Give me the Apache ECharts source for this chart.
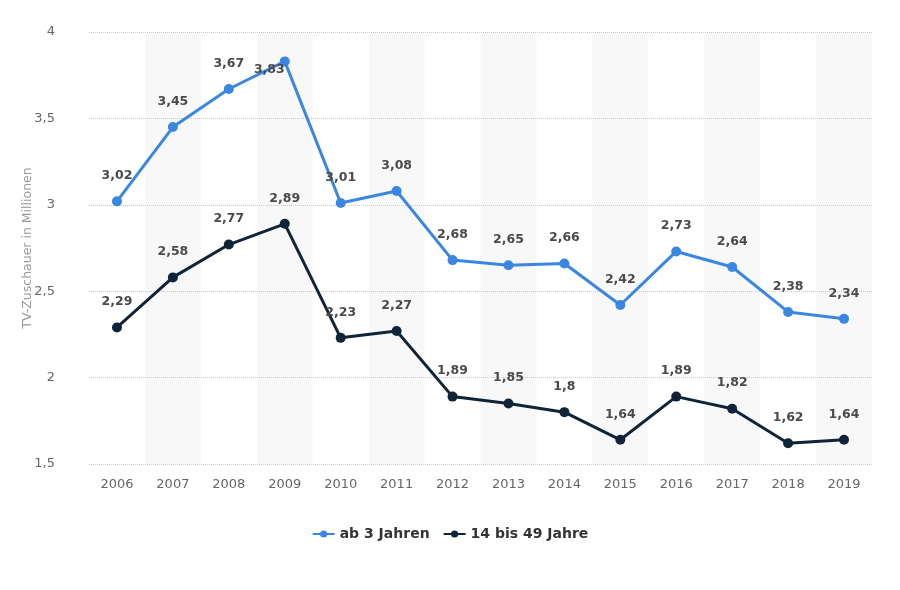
<!DOCTYPE html>
<html><head><meta charset="utf-8">
<script src="https://cdn.jsdelivr.net/npm/echarts@6/dist/echarts.min.js"></script>
<style>html,body{margin:0;padding:0;background:#fff}#c{width:900px;height:590px}</style>
</head><body><div id="c"></div>
<script>
const categories = ['2006','2007','2008','2009','2010','2011','2012','2013','2014','2015','2016','2017','2018','2019'];
const ab3Jahren = [3.02,3.45,3.67,3.83,3.01,3.08,2.68,2.65,2.66,2.42,2.73,2.64,2.38,2.34];
const bis49 = [2.29,2.58,2.77,2.89,2.23,2.27,1.89,1.85,1.8,1.64,1.89,1.82,1.62,1.64];
const seriesNames = ['ab 3 Jahren','14 bis 49 Jahre'];
const yTitle = 'TV-Zuschauer in Millionen';

const FONT = 'DejaVu Sans';
const fmt = v => String(v).replace('.', ',');
const chart = echarts.init(document.getElementById('c'));
const lbl = {show:true, position:'top', distance:14, fontFamily:FONT, fontWeight:'bold', fontSize:12.5, color:'#4a4a4a',
  formatter:p=>fmt(p.value)};
// the top point's label is pushed down next to the marker, as in the reference
const ab3Data = ab3Jahren.map((v,i)=> i===3 ? {value:v, label:{position:'left', distance:0, offset:[5,8]}} : v);
chart.setOption({
  animation:false,
  textStyle:{fontFamily:FONT},
  grid:{left:89, right:28, top:32, bottom:126},
  legend:{bottom:44, left:'center', itemWidth:22, itemHeight:9, itemGap:13,
    textStyle:{fontFamily:FONT, fontWeight:'bold', fontSize:14, color:'#333'},
    data:seriesNames},
  xAxis:{type:'category', data:categories, boundaryGap:true, z:0,
    axisLine:{show:false}, axisTick:{show:false},
    axisLabel:{color:'#666', fontSize:13, margin:14},
    splitArea:{show:true, areaStyle:{color:['rgba(255,255,255,0)','#f8f8f8']}}},
  yAxis:{type:'value', min:1.5, max:4, interval:0.5, z:1,
    name:yTitle, nameLocation:'middle', nameGap:55, nameMoveOverlap:false,
    nameTextStyle:{color:'#999', fontSize:12.5},
    axisLabel:{color:'#666', fontSize:13, margin:34, formatter:v=>fmt(v)},
    axisLine:{show:false}, axisTick:{show:false},
    splitLine:{lineStyle:{type:'dotted', color:'#c8c8c8', width:1}}},
  series:[
    {name:seriesNames[0], type:'line', data:ab3Data, symbol:'circle', symbolSize:10,
      lineStyle:{width:3, color:'#3a87e1'}, itemStyle:{color:'#3a87e1'}, label:lbl, z:3},
    {name:seriesNames[1], type:'line', data:bis49, symbol:'circle', symbolSize:10,
      lineStyle:{width:3, color:'#0f2436'}, itemStyle:{color:'#0f2436'}, label:lbl, z:2}
  ]
});
</script></body></html>
